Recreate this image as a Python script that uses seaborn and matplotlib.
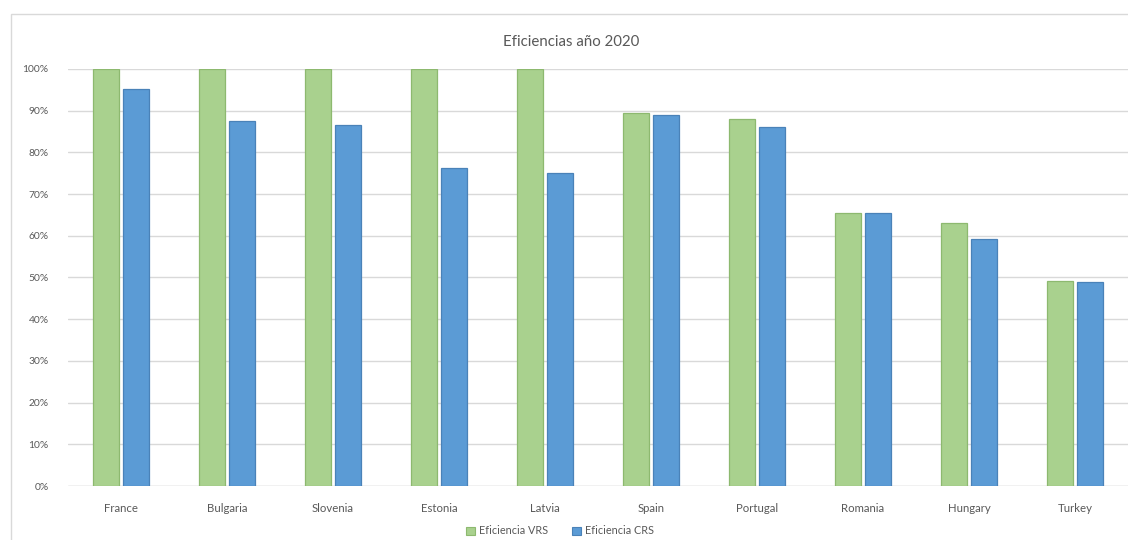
import matplotlib
matplotlib.use("Agg")
import matplotlib.pyplot as plt
from matplotlib.patches import Rectangle
from matplotlib.ticker import FuncFormatter, MultipleLocator
import seaborn as sns
import pandas as pd

countries = ["France", "Bulgaria", "Slovenia", "Estonia", "Latvia",
             "Spain", "Portugal", "Romania", "Hungary", "Turkey"]
vrs = [1.000, 1.000, 1.000, 1.000, 1.000, 0.895, 0.879, 0.654, 0.630, 0.492]
crs = [0.951, 0.875, 0.866, 0.762, 0.750, 0.890, 0.860, 0.654, 0.592, 0.489]
series_names = ["Eficiencia VRS", "Eficiencia CRS"]
title = "Eficiencias año 2020"

df = pd.DataFrame({
    "country": countries * 2,
    "value": vrs + crs,
    "serie": [series_names[0]] * len(countries) + [series_names[1]] * len(countries),
})

sns.set_theme(style="white")
plt.rcParams["font.family"] = ["Lato", "DejaVu Sans"]

fill = {series_names[0]: "#A9D18E", series_names[1]: "#5B9BD5"}
edge = {series_names[0]: "#8DB96F", series_names[1]: "#4A82B8"}
text_col = "#595959"
grid_col = "#D9D9D9"

fig = plt.figure(figsize=(11.28, 5.40), dpi=100)
ax = fig.add_axes([68 / 1128, 54 / 540, 1060 / 1128, 417 / 540])

sns.barplot(data=df, x="country", y="value", hue="serie", order=countries,
            hue_order=series_names, palette=fill, width=0.566, gap=0.13,
            ax=ax, legend=False, saturation=1)

for container, name in zip(ax.containers, series_names):
    for bar in container:
        bar.set_edgecolor(edge[name])
        bar.set_linewidth(0.9)

ax.set_ylim(0, 1.0)
ax.set_xlim(-0.5, len(countries) - 0.5)
ax.yaxis.set_major_locator(MultipleLocator(0.1))
ax.yaxis.set_major_formatter(FuncFormatter(lambda v, _: f"{v * 100:.0f}%"))
ax.set_axisbelow(True)
ax.yaxis.grid(True, color=grid_col, linewidth=1.0)
ax.set_xlabel("")
ax.set_ylabel("")
for s in ax.spines.values():
    s.set_visible(False)
ax.tick_params(axis="y", length=0, pad=14, labelsize=7.4, labelcolor=text_col)
ax.tick_params(axis="x", length=0, pad=12, labelsize=8.2, labelcolor=text_col)
ax.axhline(0, color=grid_col, linewidth=1.0, zorder=0)

# chart frame
fig.patches.append(Rectangle((11 / 1128, -0.05), 1.2, 0.974 + 0.05,
                             transform=fig.transFigure, fill=False,
                             edgecolor=grid_col, linewidth=1.0))

fig.text(571 / 1128, 1 - 42 / 540, title, ha="center", va="center",
         fontsize=10.8, color=text_col)

handles = [Rectangle((0, 0), 1, 1, facecolor=fill[n], edgecolor=edge[n], linewidth=0.8)
           for n in series_names]
leg = fig.legend(handles, series_names, loc="center", ncol=2,
                 bbox_to_anchor=(560 / 1128, 1 - 531 / 540), frameon=False,
                 fontsize=7.8, handlelength=0.8, handleheight=0.8,
                 handletextpad=0.4, columnspacing=2.2, borderpad=0.1)
for t in leg.get_texts():
    t.set_color(text_col)

fig.savefig("out.png", dpi=100)
